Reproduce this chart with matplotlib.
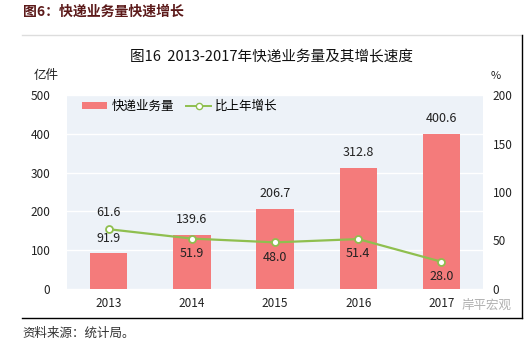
import matplotlib
matplotlib.use("Agg")
from matplotlib import pyplot as plt
from matplotlib.lines import Line2D
from matplotlib.patches import Patch
import numpy as np

plt.rcParams['font.family'] = ['Noto Sans CJK SC', 'DejaVu Sans']

years = ['2013', '2014', '2015', '2016', '2017']
volume = [91.9, 139.6, 206.7, 312.8, 400.6]      # 亿件
growth = [61.6, 51.9, 48.0, 51.4, 28.0]          # %
left_ticks = [0, 100, 200, 300, 400, 500]
right_ticks = [0, 50, 100, 150, 200]

bar_color = '#f47b7b'
line_color = '#8fbf4f'
bg_color = '#edf2f8'

fig = plt.figure(figsize=(5.32, 3.51), dpi=100)
ax = fig.add_axes([0.126, 0.177, 0.782, 0.552])
ax2 = ax.twinx()

x = np.arange(len(years))
ax.set_facecolor(bg_color)
ax.bar(x, volume, width=0.45, color=bar_color, zorder=2)
ax.set_ylim(0, 500)
ax.set_xlim(-0.5, len(years) - 0.5)
ax.set_yticks(left_ticks)
ax.grid(axis='y', color='white', linewidth=1, zorder=1)
ax.set_axisbelow(True)
ax.set_xticks(x)
ax.set_xticklabels(years)
ax.tick_params(axis='both', length=0, labelsize=8.5, colors='#222222')
ax.tick_params(axis='y', pad=12)
ax.tick_params(axis='x', pad=6)

for xi, v in zip(x, volume):
    ax.annotate(f'{v:.1f}', (xi, v), xytext=(0, 6), textcoords='offset points',
                ha='center', va='bottom', fontsize=9, color='#222222')

ax2.plot(x, growth, color=line_color, linewidth=1.6, marker='o', markersize=5,
         markerfacecolor='white', markeredgecolor=line_color, markeredgewidth=1.3, zorder=3)
ax2.set_ylim(0, 200)
ax2.set_yticks(right_ticks)
ax2.tick_params(axis='y', length=0, labelsize=8.5, colors='#222222', pad=7)

for i, (xi, g) in enumerate(zip(x, growth)):
    if i == 0:
        ax2.annotate(f'{g:.1f}', (xi, g), xytext=(0, 7), textcoords='offset points',
                     ha='center', va='bottom', fontsize=9, color='#222222')
    else:
        ax2.annotate(f'{g:.1f}', (xi, g), xytext=(0, -6), textcoords='offset points',
                     ha='center', va='top', fontsize=9, color='#222222')

for a in (ax, ax2):
    for s in a.spines.values():
        s.set_visible(False)

handles = [Patch(facecolor=bar_color, edgecolor='none'),
           Line2D([0], [0], color=line_color, linewidth=1.4, marker='o', markersize=4.5,
                  markerfacecolor='white', markeredgecolor=line_color)]
ax.legend(handles, ['快递业务量', '比上年增长'], loc='upper left', bbox_to_anchor=(0.01, 1.035),
          ncol=2, frameon=False, fontsize=9, handlelength=2.0, handleheight=0.5,
          columnspacing=1.0, handletextpad=0.3)

# page decorations
fig.text(23 / 532, 1 - 12 / 351, '图6：快递业务量快速增长', fontsize=10, fontweight='bold',
         color='#5c1a1a', va='center', ha='left')
fig.add_artist(Line2D([22 / 532, 522 / 532], [1 - 35 / 351, 1 - 35 / 351], color='#dddddd', linewidth=1))
fig.add_artist(Line2D([22 / 532, 522 / 532], [1 - 318 / 351, 1 - 318 / 351], color='black', linewidth=1))
fig.add_artist(Line2D([522 / 532, 522 / 532], [1 - 35 / 351, 1 - 318 / 351], color='black', linewidth=1))
fig.text(272 / 532, 1 - 57 / 351, '图16  2013-2017年快递业务量及其增长速度', fontsize=10.5,
         color='#111111', ha='center', va='center')
fig.text(46 / 532, 1 - 76 / 351, '亿件', fontsize=9, color='#222222', ha='center', va='center')
fig.text(496 / 532, 1 - 76 / 351, '%', fontsize=8, color='#222222', ha='center', va='center')
fig.text(487 / 532, 1 - 305 / 351, '岸平宏观', fontsize=9, color='#b0b0b0', ha='center', va='center')
fig.text(22 / 532, 1 - 333 / 351, '资料来源：统计局。', fontsize=9, color='#333333', ha='left', va='center')

fig.savefig('out.png', dpi=100)
